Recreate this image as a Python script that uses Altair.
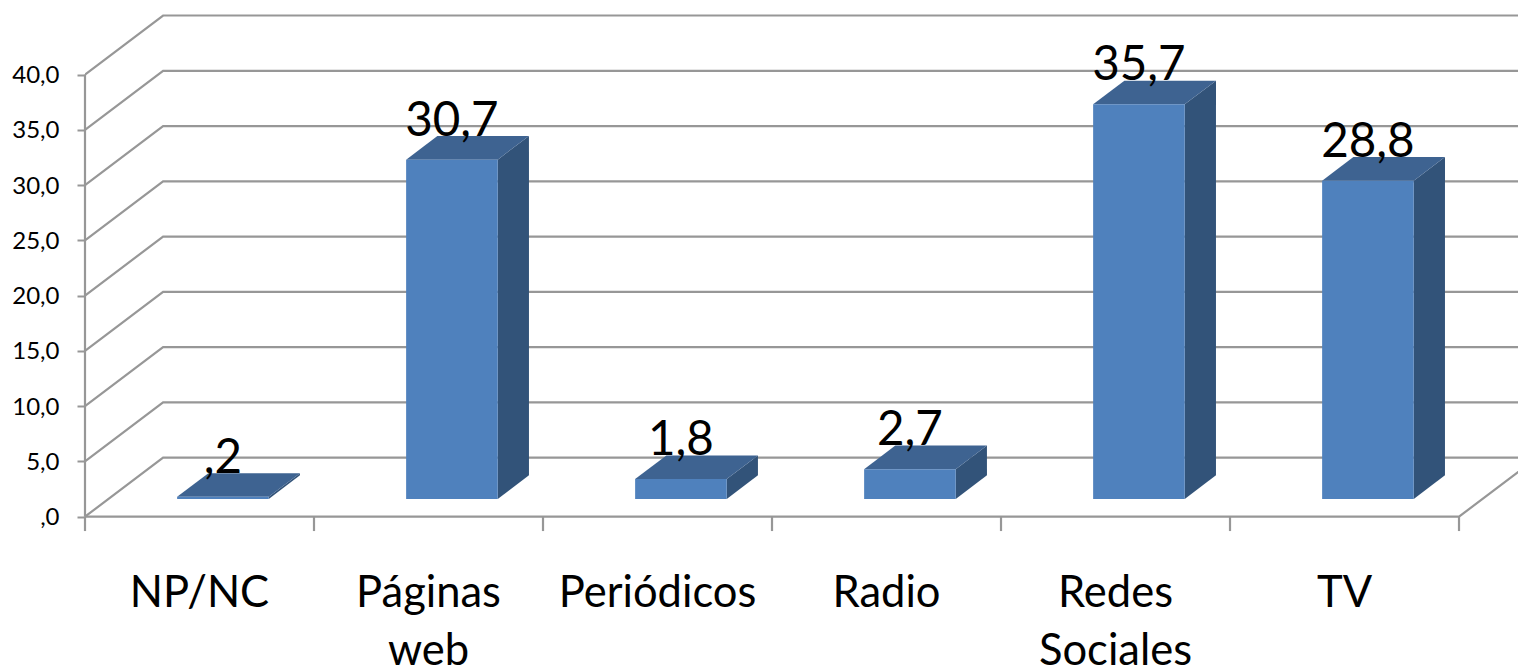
import altair as alt
import pandas as pd

categories = ["NP/NC", "Páginas\nweb", "Periódicos", "Radio", "Redes\nSociales", "TV"]
values = [0.2, 30.7, 1.8, 2.7, 35.7, 28.8]
value_labels = [",2", "30,7", "1,8", "2,7", "35,7", "28,8"]
y_ticks = [0, 5, 10, 15, 20, 25, 30, 35, 40]

# Oblique projection of the 3D box, in axis units
DX, DY = 0.341, 5.34        # wall depth: category units, value units
BAR_W = 0.40                # bar width in category units
NEAR, FAR = 0.30, 0.70      # bar's position through the depth of the floor

FONT = "Lato"
GRID = "#979797"
FRONT, TOP, SIDE = "#4F81BD", "#3E6391", "#325379"

XMAX = 6.2576
YMIN, YMAX = -13.78, 46.02
X = lambda f, **k: alt.X(f, type="quantitative", axis=None,
                         scale=alt.Scale(domain=[0, XMAX], nice=False, zero=False), **k)
Y = lambda f, **k: alt.Y(f, type="quantitative", title=None,
                         scale=alt.Scale(domain=[YMIN, YMAX], nice=False, zero=False),
                         axis=alt.Axis(values=y_ticks, grid=False, domain=False, tickColor=GRID,
                                       tickWidth=2, tickSize=8, labelPadding=18, labelFont=FONT,
                                       labelFontSize=24, labelColor="black", labelOffset=1,
                                       labelExpr="datum.value === 0 ? ',0' : replace(format(datum.value, '.1f'), '.', ',')"),
                         **k)

# walls
wall_rows = []
for v in y_ticks:
    wall_rows += [dict(id=v, o=0, x=0, y=v), dict(id=v, o=1, x=DX, y=v + DY), dict(id=v, o=2, x=6 + DX, y=v + DY)]
wall_rows += [dict(id="floor", o=0, x=0, y=0), dict(id="floor", o=1, x=6, y=0), dict(id="floor", o=2, x=6 + DX, y=DY)]
walls = alt.Chart(pd.DataFrame(wall_rows)).mark_line(color=GRID, strokeWidth=2.2, clip=True).encode(
    x=X("x"), y=Y("y"), detail="id:N", order="o:Q")

# axis rules
tick_df = pd.DataFrame({"x": list(range(7)), "y": [0.0] * 7, "y2": [-1.3] * 7})
ticks = alt.Chart(tick_df).mark_rule(color=GRID, strokeWidth=2.2).encode(x=X("x"), y=Y("y"), y2="y2")
axis_df = pd.DataFrame({"x": [0], "y": [40], "y2": [0]})
yline = alt.Chart(axis_df).mark_rule(color=GRID, strokeWidth=2.2).encode(x=X("x"), y=Y("y"), y2="y2")

# bar faces
front_rows, side_rows, top_rows = [], [], []
for i, v in enumerate(values):
    x0 = i + 0.5 - BAR_W / 2 + NEAR * DX
    x1 = x0 + BAR_W
    b = NEAR * DY
    d = (FAR - NEAR)
    front_rows.append(dict(i=i, x=x0, x2=x1, y=b + v, y2=b))
    side_rows += [dict(i=i, x=x1, y=b + v, y2=b), dict(i=i, x=x1 + d * DX, y=b + v + d * DY, y2=b + d * DY)]
    top_rows += [dict(i=i, y=b + v, x=x0, x2=x1), dict(i=i, y=b + v + d * DY, x=x0 + d * DX, x2=x1 + d * DX)]

front = alt.Chart(pd.DataFrame(front_rows)).mark_rect(color=FRONT).encode(x=X("x"), x2="x2", y=Y("y"), y2="y2")
side = alt.Chart(pd.DataFrame(side_rows)).mark_area(color=SIDE, orient="vertical").encode(
    x=X("x"), y=Y("y"), y2="y2", detail="i:N")
top = alt.Chart(pd.DataFrame(top_rows)).mark_area(color=TOP, orient="horizontal").encode(
    y=Y("y"), x=X("x"), x2="x2", detail="i:N")

# texts
label_df = pd.DataFrame({"x": [i + 0.5 + NEAR * DX for i in range(6)],
                         "y": [NEAR * DY + v for v in values], "t": value_labels})
labels = alt.Chart(label_df).mark_text(font=FONT, fontSize=47.5, color="black", baseline="alphabetic",
                                       align="center", dy=-24).encode(x=X("x"), y=Y("y"), text="t:N")
cat_df = pd.DataFrame({"x": [i + 0.5 for i in range(6)], "y": [-8.2] * 6, "t": categories})
cats = alt.Chart(cat_df).mark_text(font=FONT, fontSize=43.5, color="black", baseline="alphabetic",
                                   align="center", lineBreak="\n", lineHeight=58).encode(
    x=X("x"), y=Y("y"), text="t:N")

chart = alt.layer(walls, ticks, yline, side, top, front, labels, cats).properties(
    width=1433, height=661,
    padding={"left": 77, "top": 0, "right": 0, "bottom": 0},
    autosize=alt.AutoSizeParams(type="none"),
    background="white",
).configure_view(stroke=None)

chart.save("out.html", embed_options={"renderer": "svg", "actions": False})
